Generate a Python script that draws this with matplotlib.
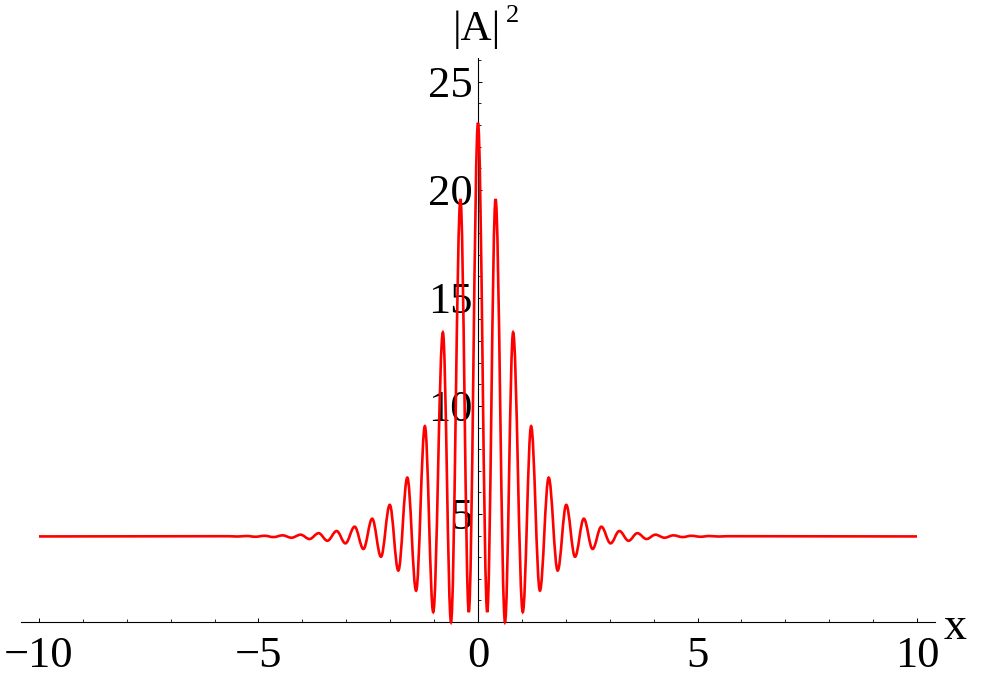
import matplotlib
matplotlib.use("Agg")
import matplotlib.pyplot as plt
from matplotlib.path import Path
from matplotlib.patches import PathPatch
from matplotlib.ticker import MultipleLocator, FixedLocator

# extrema of |A|^2 (x, value)
ext_x = [-10.0, -5.68, -5.48, -5.27, -5.07, -4.86, -4.66, -4.45, -4.25, -4.04,
         -3.84, -3.63, -3.43, -3.22, -3.02, -2.81, -2.61, -2.41, -2.21, -2.01,
         -1.815, -1.61, -1.41, -1.21, -1.02, -0.80, -0.615, -0.40, -0.21, 0.00,
         0.21, 0.40, 0.615, 0.80, 1.02, 1.21, 1.41, 1.61, 1.815, 2.01,
         2.21, 2.41, 2.61, 2.81, 3.02, 3.22, 3.43, 3.63, 3.84, 4.04,
         4.25, 4.45, 4.66, 4.86, 5.07, 5.27, 5.48, 5.68, 10.0]
ext_y = [3.96, 3.97, 3.955, 3.98, 3.945, 3.99, 3.93, 4.01, 3.90, 4.04,
         3.84, 4.11, 3.76, 4.21, 3.64, 4.41, 3.38, 4.78, 3.02, 5.42,
         2.38, 6.68, 1.45, 9.06, 0.46, 13.40, 0.0, 19.57, 0.46, 23.10,
         0.46, 19.57, 0.0, 13.40, 0.46, 9.06, 1.45, 6.68, 2.38, 5.42,
         3.02, 4.78, 3.38, 4.41, 3.64, 4.21, 3.76, 4.11, 3.84, 4.04,
         3.90, 4.01, 3.93, 3.99, 3.945, 3.98, 3.955, 3.97, 3.96]

x_major = [-10, -5, 0, 5, 10]
x_labels = ["\u221210", "\u22125", "0", "5", "10"]
y_major = [5, 10, 15, 20, 25]
y_labels = ["5", "10", "15", "20", "25"]

SERIF = ["Liberation Serif", "DejaVu Serif"]

fig = plt.figure(figsize=(10, 6.79), dpi=100)
ax = fig.add_axes([21 / 1000, 57 / 679, (935 - 21) / 1000, (622 - 58) / 679])
ax.set_xlim(-10.41, 10.41)
ax.set_ylim(0, 26.1)

# smooth curve through the extrema (horizontal tangents at each extremum)
k = 0.364
verts = [(ext_x[0], ext_y[0])]
codes = [Path.MOVETO]
for i in range(len(ext_x) - 1):
    x0, y0 = ext_x[i], ext_y[i]
    x1, y1 = ext_x[i + 1], ext_y[i + 1]
    dx = x1 - x0
    verts += [(x0 + k * dx, y0), (x1 - k * dx, y1), (x1, y1)]
    codes += [Path.CURVE4] * 3
patch = PathPatch(Path(verts, codes), facecolor="none", edgecolor="#ff0000",
                  lw=1.9, clip_on=False, zorder=3)
ax.add_patch(patch)

for s in ["top", "right"]:
    ax.spines[s].set_visible(False)
ax.spines["left"].set_position(("data", 0))
ax.spines["bottom"].set_position(("data", 0))
for s in ["left", "bottom"]:
    ax.spines[s].set_linewidth(0.8)

ax.xaxis.set_major_locator(FixedLocator(x_major))
ax.xaxis.set_minor_locator(MultipleLocator(1))
ax.set_xticklabels(x_labels)
ax.yaxis.set_major_locator(FixedLocator(y_major))
ax.yaxis.set_minor_locator(MultipleLocator(1))
ax.set_yticklabels(y_labels)

ax.tick_params(which="major", direction="in", length=3.2, width=0.7)
ax.tick_params(which="minor", direction="in", length=2.0, width=0.6)
ax.tick_params(axis="x", which="major", pad=10)
ax.tick_params(axis="y", which="major", pad=4)
for lab in ax.get_xticklabels() + ax.get_yticklabels():
    lab.set_family(SERIF)
    lab.set_fontsize(32)

fig.text(453 / 1000, 1 - 40 / 679, "|A|", family=SERIF, fontsize=31,
         ha="left", va="baseline")
fig.text(506 / 1000, 1 - 22 / 679, "2", family=SERIF, fontsize=19,
         ha="left", va="baseline")
fig.text(944 / 1000, 1 - 639 / 679, "x", family=SERIF, fontsize=33,
         ha="left", va="baseline")

fig.savefig("out.png", dpi=100)
